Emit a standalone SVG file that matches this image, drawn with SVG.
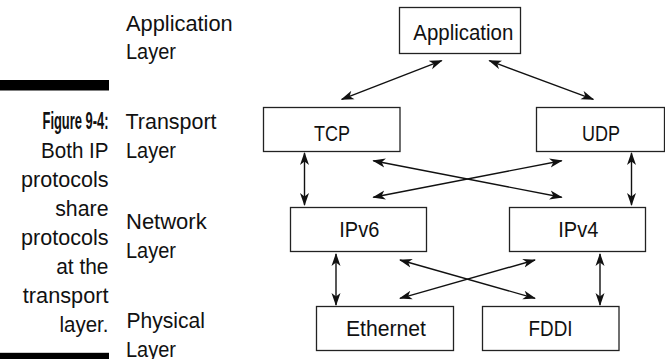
<svg xmlns="http://www.w3.org/2000/svg" width="665" height="359" viewBox="0 0 665 359">
<style>
  .lbl { font-family: "Liberation Sans Narrow", "Liberation Sans", Arial, sans-serif; font-size: 22.5px; fill: #111; }
  .cap { font-family: "Liberation Sans Narrow", "Liberation Sans", Arial, sans-serif; font-size: 22.5px; fill: #111; text-anchor: end; }
  .capb { font-weight: bold; font-size: 23px; }
  .box { fill: #fff; stroke: #222; stroke-width: 1.3; }
  .ntxt { font-family: "Liberation Sans Narrow", "Liberation Sans", Arial, sans-serif; font-size: 22px; fill: #111; text-anchor: middle; }
  .conn line { stroke: #111; stroke-width: 1.4; marker-start: url(#ah); marker-end: url(#ah); }
</style>
<defs>
  <marker id="ah" viewBox="0 0 13 10" refX="12" refY="5" markerWidth="13" markerHeight="10" markerUnits="userSpaceOnUse" orient="auto-start-reverse">
    <path d="M0,0.5 L13,5 L0,9.5 L3.5,5 z" fill="#111"/>
  </marker>
</defs>
<rect width="665" height="359" fill="#fff"/>

<!-- caption bars -->
<rect x="0" y="80" width="109" height="10.5" fill="#000"/>
<rect x="0" y="352.8" width="109" height="7" fill="#000"/>

<!-- caption -->
<g id="caption">
  <text class="cap capb" x="108.5" y="129.3" textLength="66" lengthAdjust="spacingAndGlyphs">Figure 9-4:</text>
  <text class="cap" x="108.5" y="158.3" textLength="67.5" lengthAdjust="spacingAndGlyphs">Both IP</text>
  <text class="cap" x="108.5" y="187.3" textLength="87.5" lengthAdjust="spacingAndGlyphs">protocols</text>
  <text class="cap" x="108.5" y="216.3" textLength="53.3" lengthAdjust="spacingAndGlyphs">share</text>
  <text class="cap" x="108.5" y="245.3" textLength="87.5" lengthAdjust="spacingAndGlyphs">protocols</text>
  <text class="cap" x="108.5" y="274.3" textLength="52.3" lengthAdjust="spacingAndGlyphs">at the</text>
  <text class="cap" x="108.5" y="303.3" textLength="85.7" lengthAdjust="spacingAndGlyphs">transport</text>
  <text class="cap" x="108.5" y="332.3" textLength="49" lengthAdjust="spacingAndGlyphs">layer.</text>
</g>

<!-- layer labels -->
<g id="layer-labels">
  <text class="lbl" x="126" y="30.5" textLength="106.7" lengthAdjust="spacingAndGlyphs">Application</text>
  <text class="lbl" x="126" y="58.7" textLength="50" lengthAdjust="spacingAndGlyphs">Layer</text>
  <text class="lbl" x="125.5" y="129.3" textLength="91" lengthAdjust="spacingAndGlyphs">Transport</text>
  <text class="lbl" x="126" y="158" textLength="50" lengthAdjust="spacingAndGlyphs">Layer</text>
  <text class="lbl" x="126" y="229.3" textLength="80.7" lengthAdjust="spacingAndGlyphs">Network</text>
  <text class="lbl" x="126" y="258.2" textLength="50" lengthAdjust="spacingAndGlyphs">Layer</text>
  <text class="lbl" x="126.5" y="328.3" textLength="78.5" lengthAdjust="spacingAndGlyphs">Physical</text>
  <text class="lbl" x="126" y="356.8" textLength="50" lengthAdjust="spacingAndGlyphs">Layer</text>
</g>

<!-- connectors -->
<g id="connectors" class="conn">
  <line x1="441.7" y1="60.7" x2="341.7" y2="99.3"/>
  <line x1="489.3" y1="60.7" x2="593.3" y2="99.3"/>
  <line x1="304.5" y1="153" x2="304.5" y2="205"/>
  <line x1="631.5" y1="153" x2="631.5" y2="205"/>
  <line x1="373.3" y1="160.7" x2="561.7" y2="197.3"/>
  <line x1="561.7" y1="160.7" x2="373.3" y2="197.3"/>
  <line x1="336" y1="254" x2="336" y2="305"/>
  <line x1="600" y1="254" x2="600" y2="305"/>
  <line x1="400" y1="260" x2="535" y2="298.3"/>
  <line x1="535" y1="260" x2="400" y2="298.3"/>
</g>

<!-- nodes -->
<g id="node-application">
  <rect class="box" x="399.5" y="7.5" width="121" height="46"/>
  <text class="ntxt" x="463.3" y="40" textLength="100" lengthAdjust="spacingAndGlyphs">Application</text>
</g>
<g id="node-tcp">
  <rect class="box" x="263.5" y="107.5" width="136.5" height="44"/>
  <text class="ntxt" x="332" y="141" textLength="36" lengthAdjust="spacingAndGlyphs">TCP</text>
</g>
<g id="node-udp">
  <rect class="box" x="536.5" y="107.5" width="128" height="44"/>
  <text class="ntxt" x="601" y="141" textLength="38" lengthAdjust="spacingAndGlyphs">UDP</text>
</g>
<g id="node-ipv6">
  <rect class="box" x="290.5" y="207.5" width="136" height="44"/>
  <text class="ntxt" x="359.3" y="236.7" textLength="40" lengthAdjust="spacingAndGlyphs">IPv6</text>
</g>
<g id="node-ipv4">
  <rect class="box" x="509.5" y="207.5" width="136" height="44"/>
  <text class="ntxt" x="578.3" y="236.7" textLength="40" lengthAdjust="spacingAndGlyphs">IPv4</text>
</g>
<g id="node-ethernet">
  <rect class="box" x="316.5" y="306.5" width="137" height="44"/>
  <text class="ntxt" x="386" y="335.7" textLength="80" lengthAdjust="spacingAndGlyphs">Ethernet</text>
</g>
<g id="node-fddi">
  <rect class="box" x="482.5" y="306.5" width="136.5" height="44"/>
  <text class="ntxt" x="550.5" y="335.7" textLength="44" lengthAdjust="spacingAndGlyphs">FDDI</text>
</g>
</svg>
